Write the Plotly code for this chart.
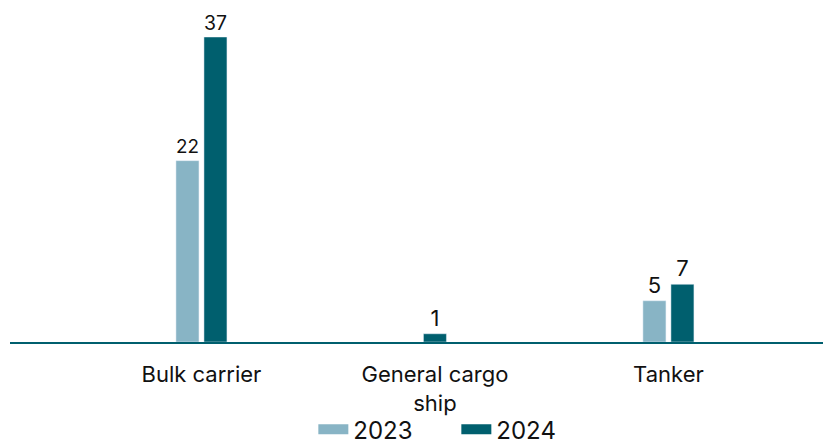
import plotly.graph_objects as go

categories = ["Bulk carrier", "General cargo<br>ship", "Tanker"]
values_2023 = [22, None, 5]
values_2024 = [37, 1, 7]
series_names = ["2023", "2024"]

c2023 = "#88b4c5"
c2024 = "#005f6e"
font_family = "Inter, 'Liberation Sans', Arial, sans-serif"

# bar geometry (in category units)
px_per_unit = 233.5
bw = 23 / px_per_unit
gap = 5 / px_per_unit


def offsets(own, other, first):
    out = []
    for a, b in zip(own, other):
        if a is None:
            out.append(0)
        elif b is None:
            out.append(-bw / 2)
        else:
            out.append(-bw - gap / 2 if first else gap / 2)
    return out


fig = go.Figure()
fig.add_trace(go.Bar(
    x=categories, y=values_2023, name=series_names[0],
    marker_color=c2023, width=bw, offset=offsets(values_2023, values_2024, True),
    text=[str(v) if v is not None else "" for v in values_2023],
    textposition="outside", cliponaxis=False,
    textfont=dict(size=22, color="#111111", family=font_family),
    showlegend=False, hoverinfo="skip",
))
fig.add_trace(go.Bar(
    x=categories, y=values_2024, name=series_names[1],
    marker_color=c2024, width=bw, offset=offsets(values_2024, values_2023, False),
    text=[str(v) for v in values_2024],
    textposition="outside", cliponaxis=False,
    textfont=dict(size=22, color="#111111", family=font_family),
    showlegend=False, hoverinfo="skip",
))
# legend entries
for name, col in zip(series_names, [c2023, c2024]):
    fig.add_trace(go.Scatter(x=[None], y=[None], mode="lines", name=name,
                             line=dict(color=col, width=14), showlegend=True))

fig.update_layout(
    width=823, height=443,
    margin=dict(l=10, r=0, t=37, b=101, autoexpand=False),
    paper_bgcolor="white", plot_bgcolor="white",
    barmode="overlay",
    font=dict(family=font_family, size=22, color="#111111"),
    showlegend=True,
    legend=dict(orientation="h", x=0.549, xanchor="center", y=-0.287, yanchor="middle",
                font=dict(size=24, color="#111111"), traceorder="normal",
                bgcolor="rgba(0,0,0,0)",
                entrywidth=98, entrywidthmode="pixels"),
    xaxis=dict(
        type="category",
        range=[-0.82, 2.662],
        showline=True, linecolor=c2024, linewidth=2,
        showgrid=False, zeroline=False,
        ticks="outside", ticklen=12, tickcolor="rgba(0,0,0,0)",
        tickfont=dict(size=22, color="#111111"),
        fixedrange=True, automargin=False,
    ),
    yaxis=dict(range=[0, 37], visible=False, showgrid=False, zeroline=False),
)

fig.write_html(
    "out.html",
    config={"displayModeBar": False},
    post_script="document.body.style.margin='0';document.body.style.overflow='hidden';",
)
